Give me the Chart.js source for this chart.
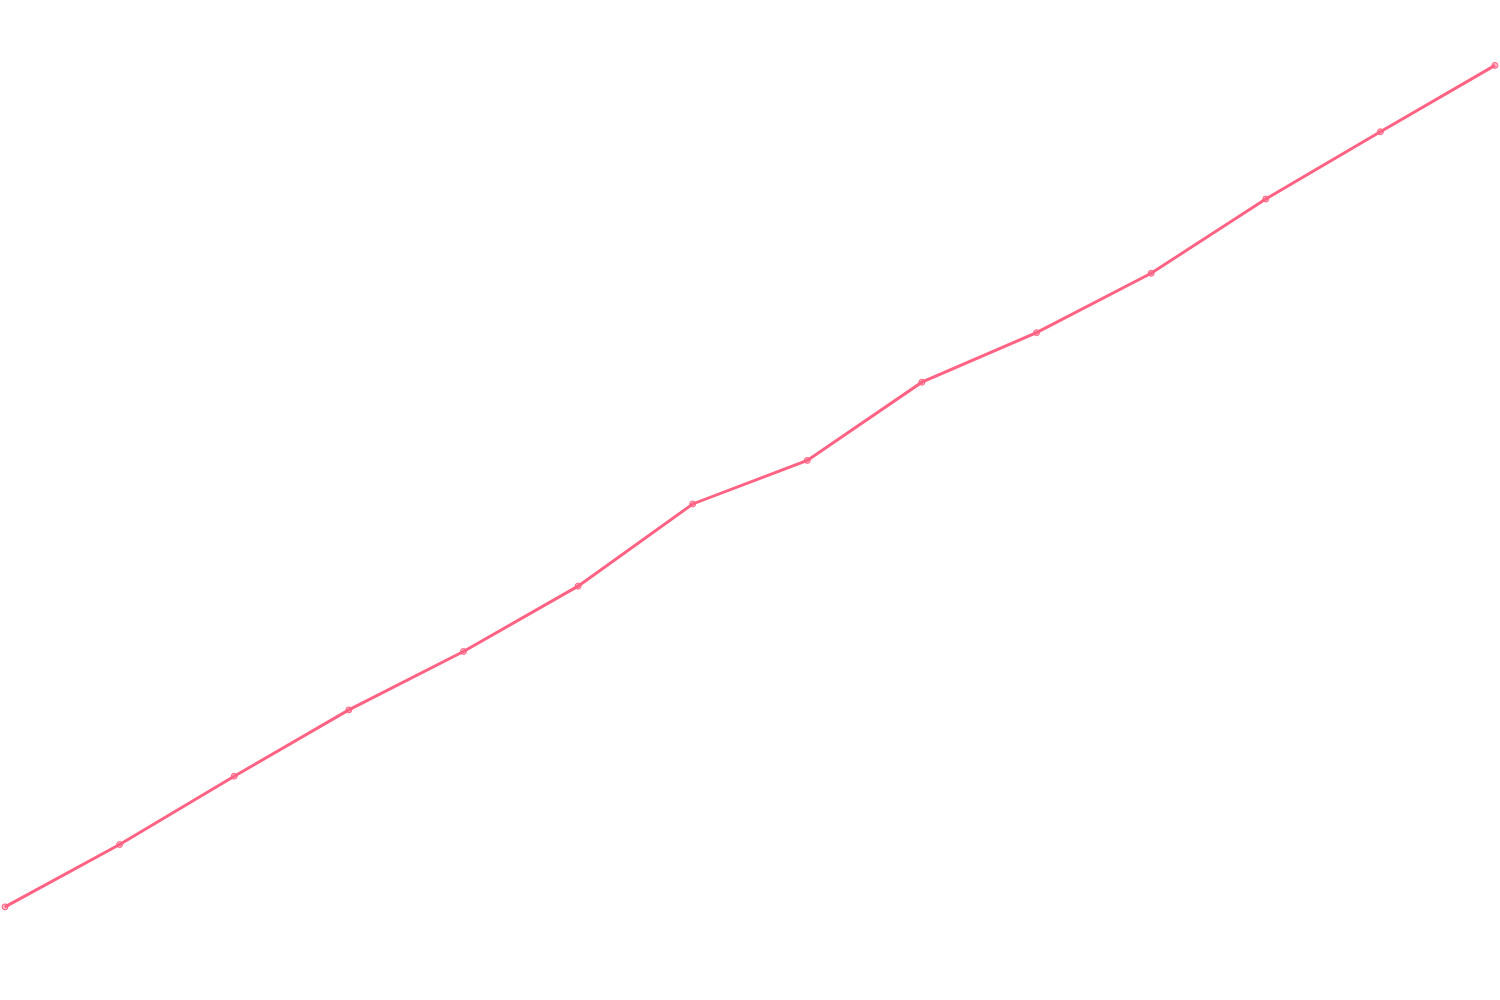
<!DOCTYPE html>
<html>
<head>
<meta charset="utf-8">
<script src="https://cdn.jsdelivr.net/npm/chart.js@4"></script>
<style>
	html, body { margin: 0; padding: 0; background: #fff; }
	#wrap { width: 1500px; height: 1000px; }
</style>
</head>
<body>
<div id="wrap"><canvas id="canvas"></canvas></div>
<script>
const labels = ['1', '2', '3', '4', '5', '6', '7', '8', '9', '10', '11', '12', '13', '14'];
const values = [8.9, 15.2, 22.1, 28.8, 34.7, 41.3, 49.6, 54.0, 61.9, 66.9, 72.9, 80.4, 87.2, 93.9];

new Chart(document.getElementById('canvas'), {
	type: 'line',
	data: {
		labels: labels,
		datasets: [{
			data: values,
			borderColor: 'rgb(255, 99, 132)',
			backgroundColor: 'rgba(255, 99, 132, 0.5)',
			borderWidth: 3,
			pointRadius: 3,
			pointBorderWidth: 1,
			tension: 0,
		}]
	},
	options: {
		animation: false,
		responsive: true,
		maintainAspectRatio: false,
		layout: { padding: 3 },
		plugins: {
			legend: { display: false },
			tooltip: { enabled: false },
		},
		scales: {
			x: { display: false },
			y: { display: false, min: 0, max: 100 },
		},
	},
});
</script>
</body>
</html>
